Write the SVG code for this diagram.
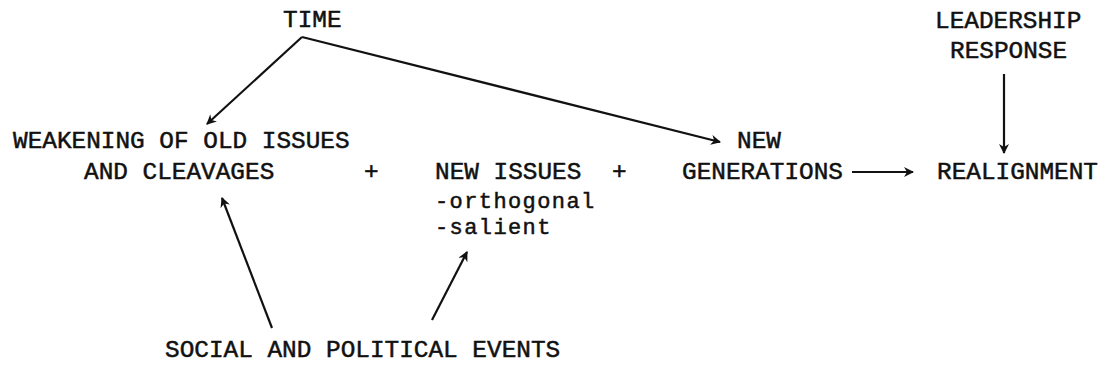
<svg xmlns="http://www.w3.org/2000/svg" width="1107" height="370" viewBox="0 0 1107 370">
<style>
text{font-family:"Liberation Mono","Courier New",monospace;font-size:24.4px;fill:#111;stroke:#111;stroke-width:0.5px;}
.sub{font-size:22px;letter-spacing:1.4px;}
.c{stroke:#111;stroke-width:2.2;fill:none;}
</style>
<defs>
<marker id="ah" viewBox="0 0 10 10" refX="9" refY="5" markerWidth="10" markerHeight="10" orient="auto" markerUnits="userSpaceOnUse">
<path d="M0,0 L10,5 L0,10 L3,5 z" fill="#111"/>
</marker>
</defs>
<rect width="1107" height="370" fill="#fff"/>
<g id="time"><text x="283" y="27">TIME</text></g>
<g id="leadership"><text x="935" y="28">LEADERSHIP</text><text x="950" y="58">RESPONSE</text></g>
<g id="weakening"><text x="13" y="148">WEAKENING OF OLD ISSUES</text><text x="84" y="179">AND CLEAVAGES</text></g>
<g id="plus1"><text x="364" y="179">+</text></g>
<g id="newissues"><text x="435" y="179">NEW ISSUES</text><text class="sub" x="435" y="208">-orthogonal</text><text class="sub" x="435" y="234">-salient</text></g>
<g id="plus2"><text x="612" y="179">+</text></g>
<g id="newgen"><text x="737" y="148">NEW</text><text x="682" y="179">GENERATIONS</text></g>
<g id="realignment"><text x="937" y="179">REALIGNMENT</text></g>
<g id="events"><text x="165" y="357">SOCIAL AND POLITICAL EVENTS</text></g>
<g id="connectors">
<path class="c" d="M302,37 L207,124" marker-end="url(#ah)"/>
<path class="c" d="M302,37 L720,142" marker-end="url(#ah)"/>
<path class="c" d="M1004,74 L1004,153" marker-end="url(#ah)"/>
<path class="c" d="M852,172 L913,172" marker-end="url(#ah)"/>
<path class="c" d="M272,328 L222,198" marker-end="url(#ah)"/>
<path class="c" d="M432,320 L467,252" marker-end="url(#ah)"/>
</g>
</svg>
